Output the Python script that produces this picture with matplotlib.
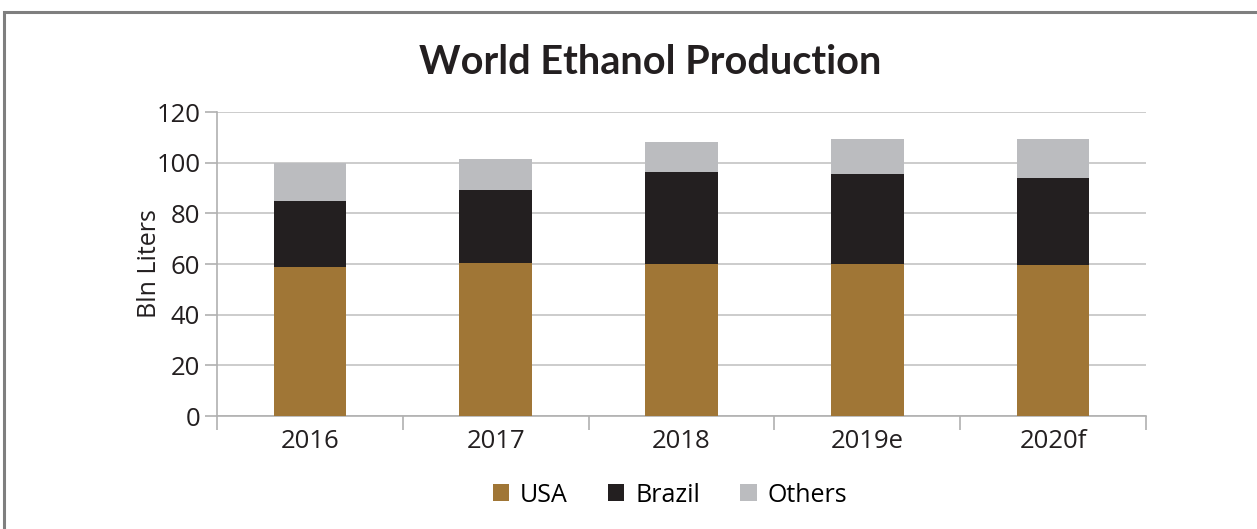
import numpy as np
import matplotlib
matplotlib.use("Agg")
import matplotlib.pyplot as plt
from matplotlib.patches import Rectangle

years = ["2016", "2017", "2018", "2019e", "2020f"]
usa = [58.9, 60.2, 60.0, 60.0, 59.7]
brazil = [26.0, 28.9, 36.3, 35.4, 34.1]
others = [14.9, 12.2, 11.7, 13.8, 15.4]

plt.rcParams['font.family'] = ['Open Sans', 'DejaVu Sans']

fig = plt.figure(figsize=(12.57, 5.29), dpi=100)
ax = fig.add_axes([217 / 1257, 1 - 416 / 529, (1146 - 217) / 1257, (416 - 112) / 529])

# outer frame of the panel
fig.patches.append(Rectangle((4 / 1257, -0.05), 1.2, 1 - 12 / 529 + 0.05,
                             transform=fig.transFigure, fill=False,
                             edgecolor='#7f7f7f', linewidth=2.2))

x = np.arange(len(years))
w = 0.39
bottom2 = np.array(usa) + np.array(brazil)
ax.bar(x, usa, w, color='#a07636', label='USA', zorder=3)
ax.bar(x, brazil, w, bottom=usa, color='#231f20', label='Brazil', zorder=3)
ax.bar(x, others, w, bottom=bottom2, color='#bbbcbf', label='Others', zorder=3)

ax.set_xlim(-0.5, len(years) - 0.5)
ax.set_ylim(0, 120)
ax.set_yticks(range(0, 121, 20))
ax.set_xticks(x)
ax.set_xticklabels(years)
ax.set_xticks(np.arange(-0.5, len(years), 1), minor=True)
ax.tick_params(axis='x', which='major', length=0, labelsize=18.5, colors='#231f20', pad=9)
ax.tick_params(axis='x', which='minor', length=10, color='#b0b0b0', width=1.2)
ax.tick_params(axis='y', length=9, width=1.2, labelsize=18.5, pad=3)
ax.tick_params(axis='y', colors='#b0b0b0', labelcolor='#231f20')

ax.yaxis.grid(True, color='#c8c8c8', linewidth=1.3, zorder=0)
for s in ['top', 'right']:
    ax.spines[s].set_visible(False)
ax.spines['left'].set_color('#b0b0b0')
ax.spines['bottom'].set_color('#b0b0b0')
ax.spines['left'].set_linewidth(1.2)
ax.spines['bottom'].set_linewidth(1.2)

ax.set_ylabel('Bln Liters', fontsize=18, color='#231f20', labelpad=-4)

fig.text(650 / 1257, 1 - 63 / 529, 'World Ethanol Production', ha='center', va='center',
         fontsize=28.5, fontweight='bold', family=['Lato', 'DejaVu Sans'], color='#231f20')

fig.legend(loc='center', bbox_to_anchor=(670 / 1257, 1 - 495 / 529), ncol=3,
           frameon=False, fontsize=18, handlelength=0.65, handleheight=0.65,
           columnspacing=1.6, handletextpad=0.45)

fig.savefig('out.png', dpi=100)
